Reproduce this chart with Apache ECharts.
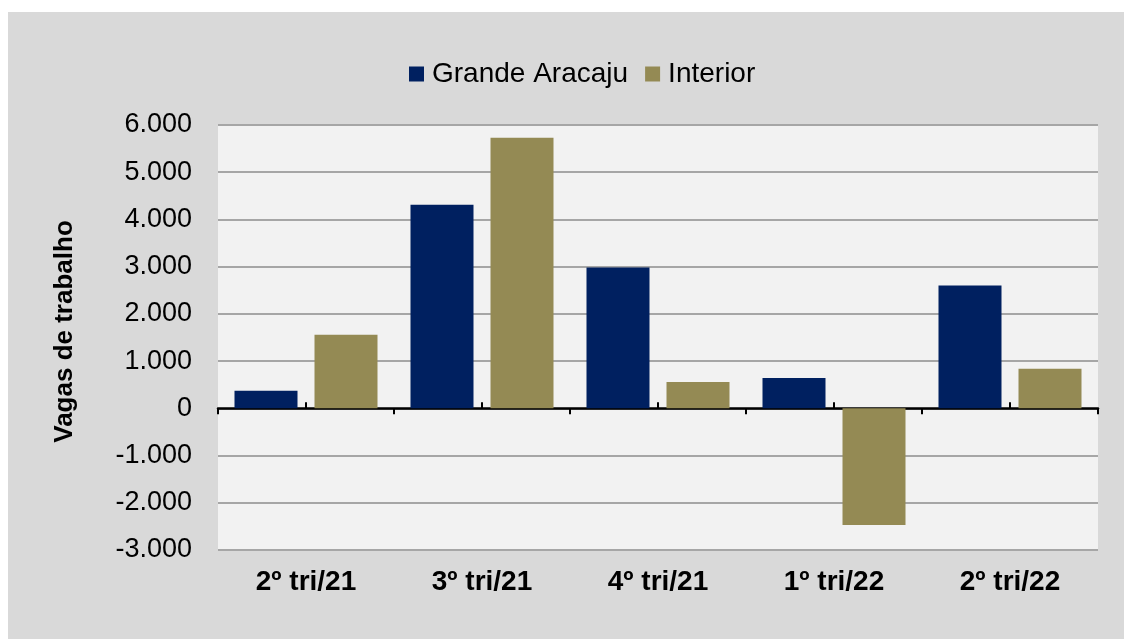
<!DOCTYPE html>
<html>
<head>
<meta charset="utf-8">
<script src="https://cdn.jsdelivr.net/npm/echarts@6/dist/echarts.min.js"></script>
<style>
html,body{margin:0;padding:0;background:#ffffff;width:1124px;height:639px;overflow:hidden;}
#chart{position:absolute;left:8px;top:12px;width:1116px;height:627px;background:#d9d9d9;}
</style>
</head>
<body>
<div id="chart"></div>
<script>
const categories = ['2º tri/21', '3º tri/21', '4º tri/21', '1º tri/22', '2º tri/22'];
const grandeAracaju = [370, 4310, 2980, 640, 2600];
const interior = [1560, 5730, 560, -2470, 840];
const seriesNames = ['Grande Aracaju', 'Interior'];
const yAxisTitle = 'Vagas de trabalho';
const yMin = -3000, yMax = 6000, yStep = 1000;

function fmt(v) {
  const s = Math.abs(v).toString().replace(/\B(?=(\d{3})+(?!\d))/g, '.');
  return (v < 0 ? '-' : '') + s;
}

const chart = echarts.init(document.getElementById('chart'), null, {renderer: 'canvas'});
const font = 'Liberation Sans, Arial, sans-serif';
chart.setOption({
  backgroundColor: '#d9d9d9',
  animation: false,
  legend: {
    left: 396, top: 43,
    itemWidth: 15, itemHeight: 15, itemGap: 17,
    icon: 'rect',
    data: seriesNames,
    textStyle: {fontFamily: font, fontSize: 28, color: '#000', padding: [0, 0, 0, 3]}
  },
  grid: {
    left: 210, right: 26, top: 113, bottom: 89,
    show: true, backgroundColor: '#f2f2f2', borderWidth: 0
  },
  xAxis: [
    {
      type: 'category', data: categories, position: 'bottom',
      axisLine: {show: false, onZero: false}, axisTick: {show: false},
      axisLabel: {fontFamily: font, fontSize: 28, fontWeight: 'bold', color: '#000', margin: 18}
    },
    {
      type: 'category', data: categories, position: 'bottom',
      axisLine: {show: true, onZero: true, onZeroAxisIndex: 0, lineStyle: {color: '#000', width: 2.5}},
      axisTick: {show: true, inside: false, length: 6, lineStyle: {color: '#000', width: 2}},
      axisLabel: {show: false}
    },
    {
      type: 'category', data: categories, position: 'top',
      axisLine: {show: false, onZero: true, onZeroAxisIndex: 1},
      axisTick: {show: true, inside: false, alignWithLabel: true, length: 6, lineStyle: {color: '#000', width: 2}},
      axisLabel: {show: false}
    }
  ],
  yAxis: [
    {
      type: 'value', min: yMin, max: yMax, interval: yStep,
      name: yAxisTitle, nameLocation: 'middle', nameRotate: 90, nameGap: 140,
      nameTextStyle: {fontFamily: font, fontSize: 26, fontWeight: 'bold', color: '#000', padding: [0, 0, 0, 12]},
      axisLine: {show: false}, axisTick: {show: false},
      axisLabel: {fontFamily: font, fontSize: 27, color: '#000', margin: 26, formatter: fmt},
      splitLine: {show: true, lineStyle: {color: '#a6a6a6', width: 2}}
    },
    {
      type: 'value', min: yMin, max: yMax, interval: yStep, position: 'left',
      axisLine: {show: false}, axisTick: {show: false}, axisLabel: {show: false},
      splitLine: {show: false}
    }
  ],
  series: [
    {name: seriesNames[0], type: 'bar', xAxisIndex: 0, yAxisIndex: 0, data: grandeAracaju, barWidth: 63, barGap: '27%',
     itemStyle: {color: '#002060'}},
    {name: seriesNames[1], type: 'bar', xAxisIndex: 0, yAxisIndex: 0, data: interior, barWidth: 63, barGap: '27%',
     itemStyle: {color: '#948a54'}}
  ]
});
</script>
</body>
</html>
